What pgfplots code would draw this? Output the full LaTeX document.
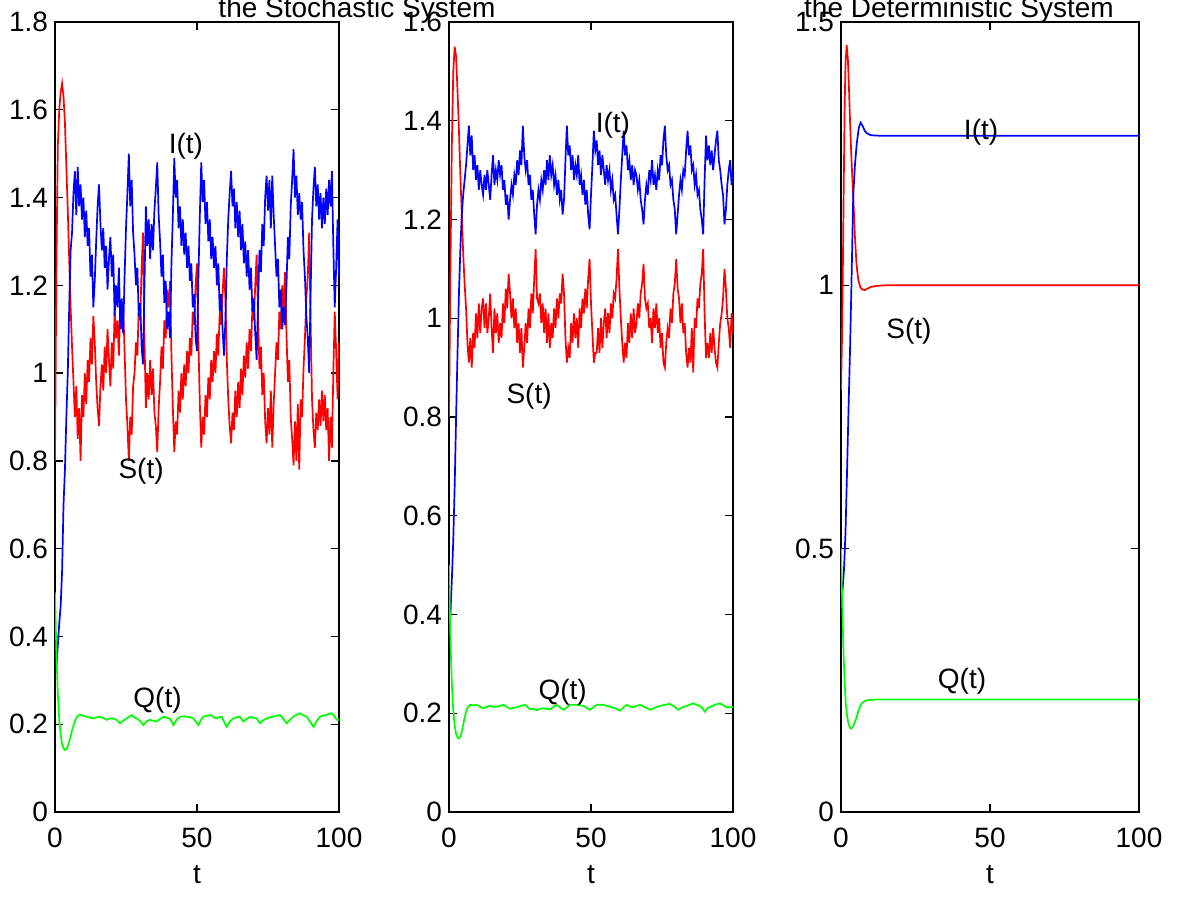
\documentclass[border=0pt]{standalone}
\usepackage{fontspec}
\setmainfont{Liberation Sans}
\usepackage{pgfplots}
\usepackage{pgfplotstable}
\pgfplotsset{compat=1.18}

% stochastic run, panel 1: t S I
\pgfplotstableread{
t S I
0 0.80 0.36
0.5 1.25 0.33
1 1.52 0.38
1.5 1.60 0.43
2 1.64 0.47
2.5 1.66 0.55
3 1.63 0.70
3.5 1.57 0.78
4 1.47 0.90
4.5 1.37 1.00
5 1.26 1.15
5.5 1.15 1.28
6 1.06 1.32
6.5 0.98 1.41
7 0.90 1.46
7.5 0.97 1.36
8 0.85 1.47
8.5 0.92 1.38
9 0.80 1.43
9.5 0.95 1.35
10 0.90 1.40
10.5 1.00 1.31
11 0.93 1.37
11.5 1.03 1.29
12 0.98 1.33
12.5 1.08 1.22
13 1.02 1.27
13.5 1.13 1.15
14 1.07 1.21
14.5 0.98 1.30
15 0.92 1.38
15.5 0.88 1.43
16 0.97 1.34
16.5 1.02 1.28
17 0.96 1.33
17.5 1.06 1.24
18 1.00 1.29
18.5 1.10 1.19
19 1.03 1.26
19.5 0.97 1.31
20 1.07 1.22
20.5 1.01 1.27
21 1.14 1.13
21.5 1.08 1.20
22 1.12 1.15
22.5 1.04 1.24
23 1.16 1.10
23.5 1.10 1.17
24 1.15 1.09
24.5 1.05 1.22
25 0.94 1.33
25.5 0.88 1.41
26 0.80 1.50
26.5 0.90 1.38
27 0.86 1.44
27.5 0.97 1.32
28 1.00 1.27
28.5 1.07 1.20
29 1.04 1.24
29.5 1.15 1.13
30 1.12 1.16
30.5 1.24 1.06
31 1.32 1.02
31.5 1.08 1.20
32 0.92 1.38
32.5 1.00 1.29
33 0.94 1.35
33.5 1.03 1.26
34 0.95 1.34
34.5 1.01 1.28
35 0.91 1.37
35.5 0.88 1.42
36 0.82 1.48
36.5 0.92 1.36
37 0.98 1.30
37.5 1.06 1.22
38 1.01 1.27
38.5 1.12 1.16
39 1.08 1.21
39.5 1.19 1.10
40 1.15 1.14
40.5 1.21 1.08
41 1.04 1.25
41.5 0.92 1.36
42 0.82 1.49
42.5 0.89 1.40
43 0.86 1.44
43.5 0.96 1.33
44 0.91 1.38
44.5 1.00 1.29
45 0.94 1.35
45.5 1.02 1.27
46 0.97 1.32
46.5 1.05 1.24
47 1.00 1.29
47.5 1.08 1.21
48 1.04 1.25
48.5 1.14 1.15
49 1.11 1.18
49.5 1.20 1.08
50 1.25 1.05
50.5 1.07 1.22
51 0.93 1.36
51.5 0.83 1.48
52 0.90 1.39
52.5 0.86 1.44
53 0.95 1.34
53.5 0.90 1.39
54 0.99 1.30
54.5 0.94 1.35
55 1.03 1.26
55.5 0.98 1.31
56 1.05 1.24
56.5 1.00 1.29
57 1.09 1.20
57.5 1.04 1.25
58 1.14 1.14
58.5 1.11 1.18
59 1.18 1.10
59.5 1.24 1.04
60 1.17 1.12
60.5 1.03 1.26
61 0.94 1.35
61.5 0.88 1.41
62 0.84 1.46
62.5 0.91 1.38
63 0.87 1.42
63.5 0.96 1.33
64 0.90 1.39
64.5 0.98 1.31
65 0.92 1.37
65.5 1.01 1.28
66 0.95 1.34
66.5 1.04 1.25
67 0.99 1.30
67.5 1.07 1.22
68 1.01 1.28
68.5 1.10 1.19
69 1.05 1.24
69.5 1.15 1.14
70 1.12 1.17
70.5 1.20 1.09
71 1.27 1.03
71.5 1.13 1.16
72 1.01 1.28
72.5 1.06 1.23
73 0.95 1.34
73.5 1.00 1.29
74 0.89 1.40
74.5 0.84 1.45
75 0.92 1.37
75.5 0.86 1.44
76 0.96 1.33
76.5 0.83 1.45
77 0.93 1.36
77.5 1.00 1.29
78 1.07 1.22
78.5 1.03 1.26
79 1.14 1.15
79.5 1.10 1.19
80 1.20 1.10
80.5 1.15 1.15
81 1.23 1.11
81.5 1.09 1.20
82 0.98 1.31
82.5 1.03 1.26
83 0.90 1.38
83.5 0.85 1.44
84 0.79 1.51
84.5 0.89 1.40
85 0.80 1.45
85.5 0.93 1.36
86 0.78 1.41
86.5 0.94 1.35
87 0.90 1.39
87.5 1.01 1.28
88 1.08 1.22
88.5 1.17 1.13
89 1.22 1.08
89.5 1.32 1.00
90 1.12 1.18
90.5 0.94 1.35
91 0.87 1.42
91.5 0.83 1.47
92 0.91 1.38
92.5 0.87 1.43
93 0.94 1.35
93.5 0.88 1.41
94 0.96 1.33
94.5 0.89 1.40
95 0.95 1.34
95.5 0.87 1.42
96 0.92 1.36
96.5 0.80 1.44
97 0.90 1.38
97.5 0.83 1.46
98 1.00 1.29
98.5 1.14 1.15
99 1.05 1.24
99.5 0.94 1.35
100 1.07 1.22
}\stochA

% stochastic run, panel 2: t S I
\pgfplotstableread{
t S I
0 0.80 0.37
0.5 1.10 0.40
1 1.35 0.47
1.5 1.50 0.55
2 1.55 0.66
2.5 1.53 0.80
3 1.46 0.93
3.5 1.38 1.05
4 1.29 1.14
4.5 1.21 1.21
5 1.13 1.25
5.5 1.07 1.28
6 1.02 1.31
6.5 0.95 1.35
7 0.91 1.39
7.5 0.96 1.33
8 0.90 1.37
8.5 0.97 1.30
9 0.94 1.33
9.5 1.01 1.28
10 0.96 1.31
10.5 1.03 1.26
11 0.97 1.30
11.5 1.02 1.27
12 1.04 1.25
12.5 0.98 1.29
13 1.03 1.26
13.5 0.97 1.30
14 1.00 1.27
14.5 1.05 1.24
15 0.98 1.29
15.5 0.93 1.33
16 1.02 1.27
16.5 0.97 1.30
17 1.01 1.28
17.5 0.95 1.32
18 0.99 1.29
18.5 0.96 1.31
19 1.03 1.26
19.5 0.99 1.28
20 1.06 1.23
20.5 1.02 1.25
21 1.09 1.20
21.5 1.05 1.24
22 1.00 1.27
22.5 1.04 1.25
23 0.98 1.29
23.5 1.02 1.27
24 0.95 1.32
24.5 0.99 1.29
25 0.93 1.34
25.5 0.98 1.31
26 0.90 1.39
26.5 0.94 1.33
27 0.99 1.30
27.5 0.95 1.32
28 1.02 1.27
28.5 0.98 1.29
29 1.05 1.24
29.5 1.01 1.26
30 1.08 1.21
30.5 1.14 1.17
31 1.04 1.23
31.5 1.03 1.26
32 1.05 1.24
32.5 0.99 1.28
33 1.03 1.26
33.5 0.97 1.30
34 1.02 1.27
34.5 0.95 1.32
35 1.01 1.28
35.5 0.94 1.33
36 0.99 1.29
36.5 0.96 1.31
37 1.02 1.27
37.5 0.98 1.29
38 1.04 1.25
38.5 1.00 1.28
39 1.05 1.24
39.5 1.03 1.26
40 1.09 1.21
40.5 1.05 1.24
41 0.96 1.32
41.5 0.91 1.39
42 0.94 1.33
42.5 0.92 1.35
43 0.99 1.30
43.5 0.95 1.33
44 1.01 1.28
44.5 0.96 1.31
45 1.00 1.29
45.5 0.94 1.33
46 1.02 1.27
46.5 0.98 1.29
47 1.04 1.25
47.5 1.01 1.28
48 1.06 1.23
48.5 1.02 1.26
49 1.08 1.21
49.5 1.12 1.18
50 1.03 1.25
50.5 0.97 1.31
51 0.91 1.38
51.5 0.93 1.34
52 0.93 1.36
52.5 0.98 1.31
53 0.93 1.34
53.5 1.00 1.29
54 0.94 1.33
54.5 0.99 1.30
55 1.02 1.27
55.5 0.96 1.31
56 1.01 1.28
56.5 0.97 1.30
57 1.03 1.26
57.5 1.00 1.28
58 1.05 1.24
58.5 1.04 1.25
59 1.08 1.21
59.5 1.14 1.17
60 1.06 1.22
60.5 1.00 1.28
61 0.95 1.33
61.5 0.91 1.38
62 0.95 1.33
62.5 0.92 1.35
63 0.99 1.30
63.5 0.95 1.32
64 1.01 1.28
64.5 0.96 1.31
65 1.02 1.27
65.5 0.97 1.30
66 0.99 1.29
66.5 1.03 1.26
67 1.00 1.28
67.5 1.05 1.24
68 1.07 1.22
68.5 1.11 1.19
69 1.04 1.24
69.5 1.02 1.27
70 1.03 1.25
70.5 0.98 1.30
71 1.00 1.28
71.5 0.95 1.32
72 1.02 1.27
72.5 0.98 1.29
73 1.03 1.26
73.5 0.97 1.30
74 1.00 1.28
74.5 0.94 1.33
75 0.97 1.31
75.5 0.91 1.36
76 0.90 1.39
76.5 0.95 1.33
77 0.98 1.30
77.5 0.96 1.31
78 1.02 1.27
78.5 0.99 1.28
79 1.05 1.24
79.5 1.07 1.22
80 1.12 1.17
80.5 1.06 1.21
81 1.04 1.25
81.5 0.99 1.28
82 1.03 1.26
82.5 0.97 1.30
83 0.99 1.29
83.5 0.93 1.34
84 0.90 1.38
84.5 0.94 1.33
85 0.91 1.35
85.5 0.98 1.30
86 0.89 1.31
86.5 1.00 1.27
87 0.98 1.29
87.5 1.04 1.25
88 1.02 1.26
88.5 1.07 1.22
89 1.09 1.20
89.5 1.14 1.17
90 1.01 1.28
90.5 0.92 1.37
91 0.95 1.32
91.5 0.92 1.35
92 0.97 1.31
92.5 0.93 1.34
93 0.98 1.30
93.5 0.94 1.33
94 0.91 1.36
94.5 0.90 1.38
95 0.95 1.32
95.5 0.99 1.30
96 1.01 1.27
96.5 1.04 1.25
97 1.10 1.19
97.5 1.06 1.22
98 1.00 1.27
98.5 0.98 1.30
99 0.94 1.32
99.5 1.01 1.27
100 0.97 1.30
}\stochB

\pgfplotsset{
  /pgf/number format/assume math mode=true,
  panel/.style={
    anchor=south west, scale only axis,
    width=142pt, height=395pt,
    xmin=0, xmax=100, ymin=0,
    xtick={0,50,100},
    tick align=inside, major tick length=4pt,
    axis line style={line width=1pt},
    every tick/.style={black, line width=0.7pt},
    tick label style={font=\fontsize{14}{16}\selectfont},
    label style={font=\fontsize{14}{16}\selectfont},
    xticklabel style={anchor=base, yshift=-18pt},
    xlabel={t},
    xlabel style={at={(axis description cs:0.5,-0.0911)}, anchor=base},
  },
  curve/.style={line width=0.85pt},
}

\begin{document}
\begin{tikzpicture}[font=\fontsize{14}{16}\selectfont]

\begin{axis}[panel, at={(27.5pt,45.5pt)}, ymax=1.8,
  ytick={0,0.2,0.4,0.6,0.8,1,1.2,1.4,1.6,1.8}]
\addplot[curve, red] table[x=t, y=S] {\stochA};
\addplot[curve, blue] table[x=t, y=I] {\stochA};
\addplot[curve, green] coordinates {
(0,0.50)(0.5,0.36)(1,0.27)(1.5,0.21)(2,0.175)(2.5,0.155)(3,0.145)(3.5,0.141)
(4,0.143)(4.5,0.150)(5,0.160)(5.5,0.172)(6,0.185)(6.5,0.197)(7,0.207)(7.5,0.214)
(8,0.219)(8.8,0.222)(10,0.219)(11.2,0.217)(12.3,0.215)(13.5,0.213)(14.7,0.216)
(15.8,0.217)(17,0.214)(18.2,0.210)(19.3,0.213)(20.5,0.213)(21.7,0.210)(22.9,0.202)
(24,0.208)(25.2,0.213)(26,0.217)(27,0.221)(28,0.215)(28.8,0.213)(30,0.207)
(31.1,0.198)(32.3,0.207)(33.5,0.210)(34.6,0.208)(35.8,0.206)(37,0.212)(38.2,0.217)
(39.4,0.215)(40.5,0.213)(41.7,0.198)(42.8,0.210)(44,0.217)(45.2,0.218)(46.4,0.217)
(47.5,0.216)(48.7,0.213)(49.6,0.206)(50.5,0.198)(51.4,0.210)(52.2,0.217)(53.4,0.219)
(54.6,0.221)(55.7,0.217)(56.9,0.213)(57.8,0.216)(58.7,0.217)(59.6,0.205)(60.4,0.194)
(61.5,0.206)(62.8,0.213)(64,0.216)(65.1,0.217)(66.3,0.206)(67.5,0.212)(68.7,0.217)
(69.8,0.215)(71,0.213)(72.2,0.202)(73.3,0.209)(74.5,0.213)(75.7,0.216)(76.9,0.217)
(78,0.219)(79.2,0.221)(80.4,0.212)(81.6,0.202)(82.7,0.210)(83.9,0.217)(85.1,0.222)
(86.3,0.225)(87.4,0.220)(88.6,0.217)(89.8,0.206)(91,0.194)(92.1,0.207)(93.3,0.217)
(94.5,0.220)(95.7,0.221)(96.5,0.224)(97.4,0.225)(98.3,0.219)(99.2,0.210)(100,0.210)
};
\node at (axis cs:46.1,1.516) {I(t)};
\node at (axis cs:30.3,0.777) {S(t)};
\node at (axis cs:36.1,0.255) {Q(t)};
\end{axis}

\begin{axis}[panel, at={(224.5pt,45.5pt)}, ymax=1.6,
  ytick={0,0.2,0.4,0.6,0.8,1,1.2,1.4,1.6}]
\addplot[curve, red] table[x=t, y=S] {\stochB};
\addplot[curve, blue] table[x=t, y=I] {\stochB};
\addplot[curve, green] coordinates {
(0,0.50)(0.5,0.35)(1,0.26)(1.5,0.205)(2,0.175)(2.5,0.158)(3,0.151)(3.4,0.149)
(4,0.153)(4.5,0.163)(5,0.177)(5.5,0.191)(6,0.203)(6.5,0.211)(7.4,0.217)(8.5,0.216)
(9.7,0.217)(11,0.213)(12.1,0.210)(13.2,0.213)(14.4,0.215)(15.6,0.213)(16.8,0.213)
(18,0.215)(19.1,0.217)(20.3,0.213)(21.5,0.209)(22.6,0.211)(23.8,0.212)(25.3,0.215)
(26.8,0.217)(28.5,0.208)(29.7,0.209)(30.9,0.206)(32,0.209)(33.2,0.210)(34.4,0.209)
(35.6,0.208)(36.8,0.213)(37.9,0.217)(39.1,0.212)(40.3,0.207)(41.5,0.212)(42.6,0.217)
(45,0.217)(47.3,0.215)(48.5,0.211)(49.6,0.207)(50.8,0.212)(52,0.217)(54.3,0.217)
(56.7,0.213)(58.5,0.210)(60.2,0.205)(61.4,0.212)(62.6,0.217)(64,0.213)(64.9,0.212)
(66,0.215)(67.3,0.217)(69,0.212)(70.8,0.207)(72.5,0.211)(74.3,0.215)(76,0.217)
(77.8,0.219)(79.2,0.214)(80.7,0.207)(82.2,0.212)(83.7,0.215)(85,0.218)(86,0.220)
(87.2,0.217)(88.4,0.215)(89.2,0.210)(90.1,0.203)(91,0.210)(91.9,0.213)(93.6,0.217)
(95.4,0.220)(96.6,0.216)(97.8,0.212)(98.9,0.212)(100,0.213)
};
\node at (axis cs:57.7,1.391) {I(t)};
\node at (axis cs:28.2,0.841) {S(t)};
\node at (axis cs:40.0,0.242) {Q(t)};
\end{axis}

\begin{axis}[panel, at={(420.5pt,45.5pt)}, width=149pt, ymax=1.5,
  ytick={0,0.5,1,1.5}]
\addplot[curve, red] coordinates {
(0,0.80)(0.3,0.89)(0.6,1.02)(0.9,1.18)(1.2,1.33)(1.5,1.42)(1.9,1.456)(2.3,1.43)
(2.7,1.37)(3.1,1.30)(3.5,1.24)(4.1,1.17)(4.6,1.10)(5.2,1.04)(5.8,1.01)(6.5,0.996)
(7.2,0.992)(8,0.991)(9,0.994)(10,0.997)(12,0.999)(15,1.0)(100,1.0)
};
\addplot[curve, blue] coordinates {
(0,0.39)(0.5,0.42)(1,0.46)(1.5,0.53)(2,0.64)(2.5,0.76)(3,0.87)(3.5,1.0)
(4.1,1.17)(4.7,1.23)(5.3,1.27)(6,1.30)(6.6,1.309)(7.3,1.302)(8,1.293)(8.6,1.289)
(10,1.285)(13,1.284)(100,1.284)
};
\addplot[curve, green] coordinates {
(0,0.50)(0.4,0.40)(0.8,0.31)(1.2,0.25)(1.6,0.205)(1.9,0.188)(2.4,0.170)(2.9,0.161)
(3.4,0.158)(4,0.162)(4.6,0.170)(5.3,0.181)(6,0.195)(6.9,0.206)(8,0.211)(9.7,0.213)
(12,0.2135)(100,0.2135)
};
\node at (axis cs:47.0,1.290) {I(t)};
\node at (axis cs:22.8,0.912) {S(t)};
\node at (axis cs:40.6,0.249) {Q(t)};
\end{axis}

\node[anchor=base] at (178.5pt,442.5pt) {the Stochastic System};
\node[anchor=base] at (479.5pt,442.5pt) {the Deterministic System};

\pgfresetboundingbox
\useasboundingbox (0,0) rectangle (600pt,451.5pt);
\end{tikzpicture}
\end{document}
